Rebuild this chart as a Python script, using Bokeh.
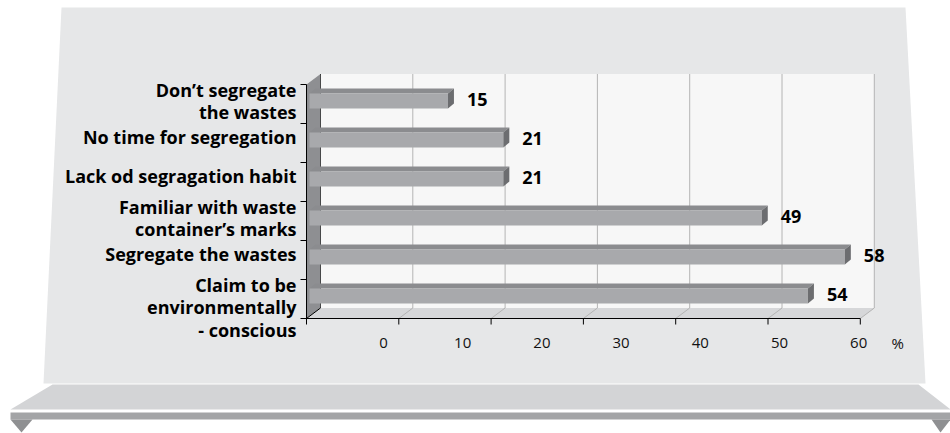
from bokeh.plotting import figure
from bokeh.models import Range1d
from bokeh.core.properties import value
from bokeh.embed import file_html
from bokeh.resources import INLINE

# ---- data -------------------------------------------------------------
categories = [
    "Don\u2019t segregate\nthe wastes",
    "No time for segregation",
    "Lack od segragation habit",
    "Familiar with waste\ncontainer\u2019s marks",
    "Segregate the wastes",
    "Claim to be\nenvironmentally\n- conscious",
]
percent = [15, 21, 21, 49, 58, 54]
ticks = [0, 10, 20, 30, 40, 50, 60]
tick_labels = ["0", "10", "20", "30", "40", "50", "60"]
unit_label = "%"

# ---- canvas geometry (pixels) -----------------------------------------
W, H = 950, 433
X0, PX = 306.0, 9.23        # front plane: pixel of 0 %, pixels per 1 %
ROW0, ROW = 103.5, 39.0     # first row centre, row pitch
LAB0, LABPX = 383.0, 7.92   # tick-label placement along the axis
DEPTH_X, DEPTH_Y = 14.0, -10.5   # front plane -> back wall
BAR_DX = 3.0                # bar front face inset from the front plane
BAR_TOP, BAR_BOT = -10.5, 4.5    # bar front face relative to row centre
BAR_DEPTH_X, BAR_DEPTH_Y = 6.0, -5.0
FONT = value("Open Sans")


def xs(px):
    return (px - X0) / PX


def ys(py):
    return (py - ROW0) / ROW


def dx(px):
    return px / PX


def dy(py):
    return py / ROW


p = figure(
    width=W, height=H,
    x_range=Range1d(xs(0), xs(W)),
    y_range=Range1d(ys(H), ys(0)),
    x_axis_location=None, y_axis_location=None,
    toolbar_location=None, output_backend="svg",
    min_border=0, outline_line_color=None,
    background_fill_color="white", border_fill_color="white",
)
p.xgrid.visible = False
p.ygrid.visible = False
p.extra_x_ranges = {"ticklabels": Range1d((0 - LAB0) / LABPX, (W - LAB0) / LABPX)}

# ---- backdrop panel and shelf -------------------------------------------
panel = [(61, 7), (905, 7), (925, 383), (43, 383)]
p.patch([xs(a) for a, _ in panel], [ys(b) for _, b in panel],
        fill_color="#e6e7e8", line_color=None)
shelf = [(52, 384), (918, 384), (950, 409), (10, 409)]
p.patch([xs(a) for a, _ in shelf], [ys(b) for _, b in shelf],
        fill_color="#d3d4d6", line_color=None)
strip = [(10, 412), (950, 412), (950, 419), (10, 419)]
p.patch([xs(a) for a, _ in strip], [ys(b) for _, b in strip],
        fill_color="#a3a4a6", line_color=None)
feet = [[(10, 419), (32, 419), (21, 432)], [(931, 419), (950, 419), (940, 432)]]
p.patches([[xs(a) for a, _ in f] for f in feet], [[ys(b) for _, b in f] for f in feet],
          fill_color="#8f9092", line_color=None)

# ---- 3-D plot box ------------------------------------------------------
lo, hi = ticks[0], ticks[-1]
top_row, bot_row = -0.5, len(categories) - 0.5
bx, by = dx(DEPTH_X), dy(DEPTH_Y)

# back wall
p.quad(left=lo + bx, right=hi + bx, top=top_row + by, bottom=bot_row + by,
       fill_color="#f7f7f7", line_color=None)
# floor
p.patch([lo, hi, hi + bx, lo + bx], [bot_row, bot_row, bot_row + by, bot_row + by],
        fill_color="#d6d7d9", line_color=None)
# gridlines on the back wall and their traces across the floor
p.segment(x0=[t + bx for t in ticks[1:]], y0=[top_row + by] * (len(ticks) - 1),
          x1=[t + bx for t in ticks[1:]], y1=[bot_row + by] * (len(ticks) - 1),
          line_color="#b4b4b4", line_width=1)
p.segment(x0=ticks[1:], y0=[bot_row] * (len(ticks) - 1),
          x1=[t + bx for t in ticks[1:]], y1=[bot_row + by] * (len(ticks) - 1),
          line_color="#b4b4b4", line_width=1)
p.segment(x0=[lo + bx], y0=[top_row + by], x1=[lo + bx], y1=[bot_row + by],
          line_color="black", line_width=1)
# left wall
p.patch([lo, lo + bx, lo + bx, lo], [top_row, top_row + by, bot_row + by, bot_row],
        fill_color="#8e8f92", line_color=None)
p.segment(x0=[lo], y0=[bot_row], x1=[lo + bx], y1=[bot_row + by],
          line_color="black", line_width=1)

# ---- bars --------------------------------------------------------------
rows = list(range(len(categories)))
b0 = dx(BAR_DX)
ends = [v + b0 for v in percent]
ft = [r + dy(BAR_TOP) for r in rows]
fb = [r + dy(BAR_BOT) for r in rows]
ddx, ddy = dx(BAR_DEPTH_X), dy(BAR_DEPTH_Y)

p.patches([[b0, e, e + ddx, b0 + ddx] for e in ends],
          [[t, t, t + ddy, t + ddy] for t in ft],
          fill_color="#8b8c8f", line_color=None)
p.quad(left=[b0] * len(ends), right=ends, top=ft, bottom=fb,
       fill_color="#a8a9ac", line_color=None)
p.patches([[e, e + ddx, e + ddx, e] for e in ends],
          [[t, t + ddy, b + ddy, b] for t, b in zip(ft, fb)],
          fill_color="#6c6d70", line_color=None)

# ---- axes --------------------------------------------------------------
p.segment(x0=[lo], y0=[bot_row], x1=[hi], y1=[bot_row], line_color="black", line_width=1)
p.segment(x0=[lo], y0=[top_row], x1=[lo], y1=[bot_row], line_color="black", line_width=1)
p.segment(x0=ticks, y0=[bot_row] * len(ticks), x1=ticks, y1=[bot_row + dy(6)] * len(ticks),
          line_color="black", line_width=1)
bounds = [r - 0.5 for r in rows] + [bot_row]
p.segment(x0=[lo] * len(bounds), y0=bounds, x1=[lo - dx(6)] * len(bounds), y1=bounds,
          line_color="black", line_width=1)

p.text(x=ticks, y=[ys(342)] * len(ticks), text=tick_labels, x_range_name="ticklabels",
       text_font=FONT, text_font_size="15px", text_color="#111111",
       text_align="center", text_baseline="middle")
p.text(x=[ticks[-1]], y=[ys(342)], text=[unit_label], x_range_name="ticklabels",
       x_offset=39, text_font=FONT, text_font_size="15px", text_color="#111111",
       text_align="center", text_baseline="middle")

# ---- category labels ---------------------------------------------------
single = [(r, c) for r, c in zip(rows, categories) if "\n" not in c]
multi = [(r, c) for r, c in zip(rows, categories) if "\n" in c]
p.text(x=[lo - dx(10)] * len(single), y=[r + dy(-6) for r, _ in single],
       text=[c for _, c in single], text_font=FONT, text_font_style="bold",
       text_font_size="18px", text_color="black",
       text_align="right", text_baseline="middle")
p.text(x=[lo - dx(10)] * len(multi), y=[r - 0.5 + dy(-7) for r, _ in multi],
       text=[c for _, c in multi], text_font=FONT, text_font_style="bold",
       text_font_size="18px", text_color="black", text_line_height=0.95,
       text_align="right", text_baseline="top")

# ---- value labels ------------------------------------------------------
p.text(x=[e + dx(19) for e in ends], y=[r + dy(-5) for r in rows],
       text=[str(v) for v in percent], text_font=FONT, text_font_style="bold",
       text_font_size="18px", text_color="black",
       text_align="left", text_baseline="middle")

open("out.html", "w").write(file_html(p, INLINE))
